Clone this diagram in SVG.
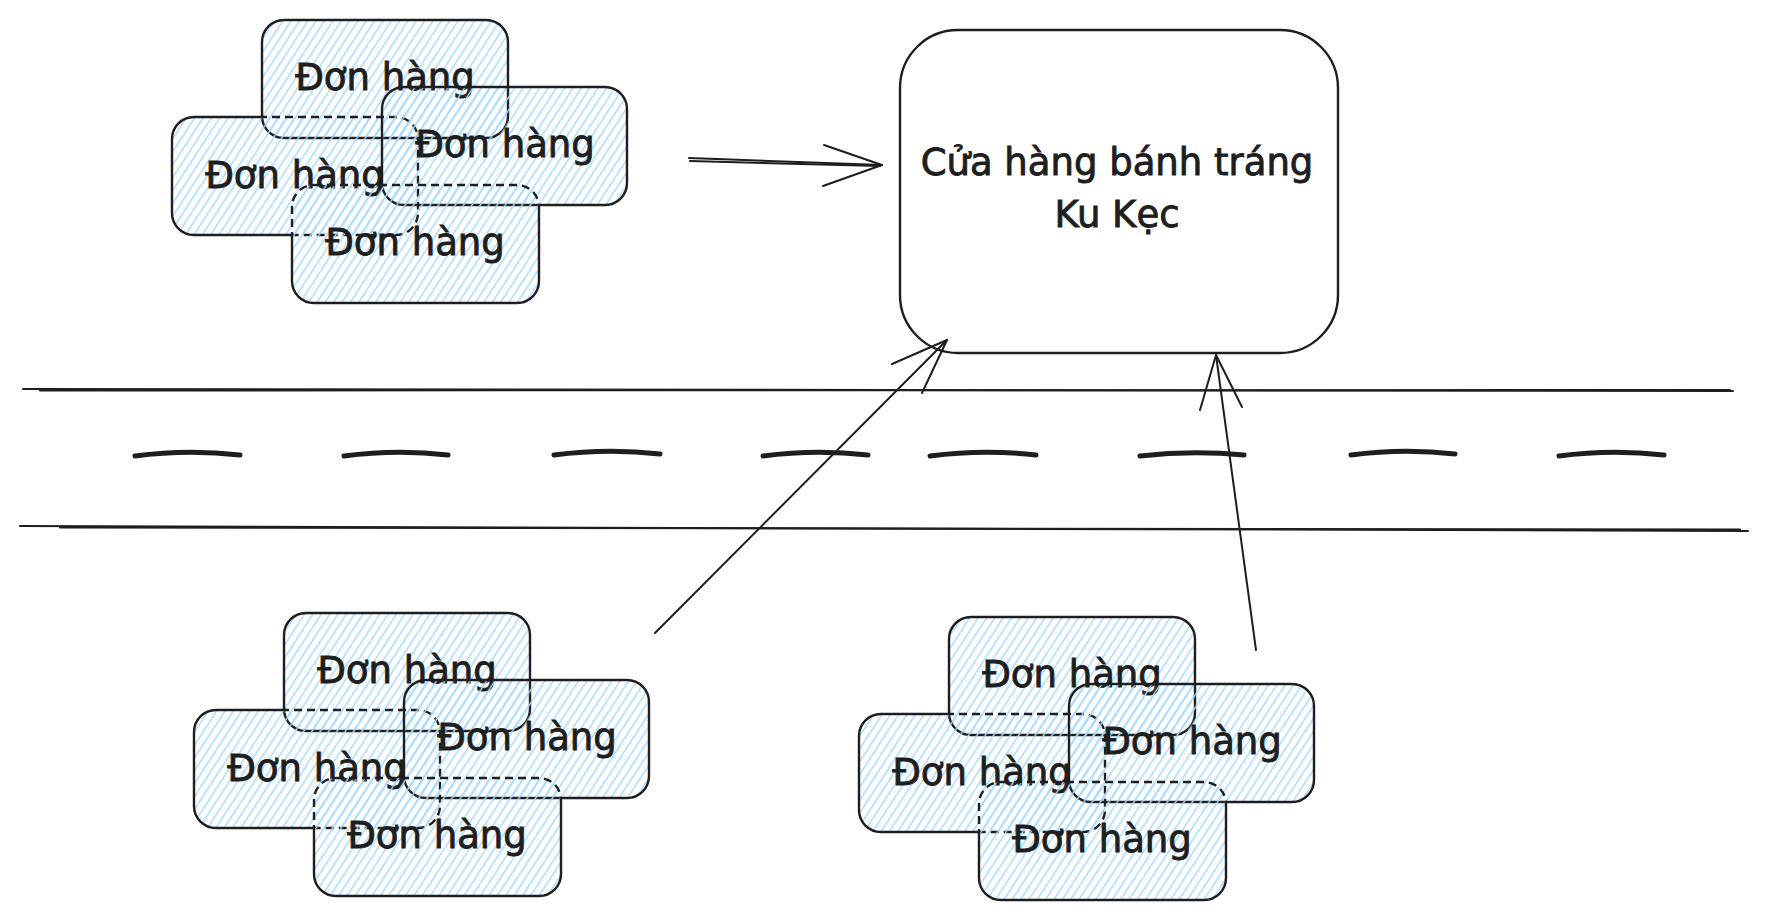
<svg xmlns="http://www.w3.org/2000/svg" width="1770" height="920" viewBox="0 0 1770 920">
<style>
.hatch{fill:url(#hatch);stroke:none}
.edge{fill:none;stroke:#1e1e1e;stroke-width:2.4;stroke-linejoin:round}
.dash{stroke-dasharray:8 5}
.lbl{font-family:"DejaVu Sans","Noto Sans",sans-serif;font-size:37px;fill:#1e1e1e;stroke:#1e1e1e;stroke-width:0.9;text-anchor:middle}
.line{fill:none;stroke:#1e1e1e;stroke-width:2;stroke-linecap:round;stroke-linejoin:round}
.mark{fill:none;stroke:#1e1e1e;stroke-width:5;stroke-linecap:round}
</style>
<defs>
<pattern id="hatch" patternUnits="userSpaceOnUse" width="7" height="7" patternTransform="rotate(33)">
<line x1="3.5" y1="-1" x2="3.5" y2="8" stroke="#a5d8ff" stroke-width="1.5"/>
</pattern>
<mask id="mBs" maskUnits="userSpaceOnUse" x="-50" y="-50" width="1900" height="1000">
<rect x="-50" y="-50" width="1900" height="1000" fill="#fff"/>
<rect x="262" y="20" width="246" height="118" rx="22" fill="#000"/>
<rect x="382" y="87" width="245" height="118" rx="22" fill="#000"/>
<rect x="292" y="185" width="247" height="118" rx="22" fill="#000"/>
</mask>
<mask id="mBd" maskUnits="userSpaceOnUse" x="-50" y="-50" width="1900" height="1000">
<rect x="262" y="20" width="246" height="118" rx="22" fill="#fff"/>
<rect x="382" y="87" width="245" height="118" rx="22" fill="#fff"/>
<rect x="292" y="185" width="247" height="118" rx="22" fill="#fff"/>
</mask>
<mask id="mDs" maskUnits="userSpaceOnUse" x="-50" y="-50" width="1900" height="1000">
<rect x="-50" y="-50" width="1900" height="1000" fill="#fff"/>
<rect x="172" y="117" width="246" height="118" rx="22" fill="#000"/>
<rect x="382" y="87" width="245" height="118" rx="22" fill="#000"/>
</mask>
<mask id="mDd" maskUnits="userSpaceOnUse" x="-50" y="-50" width="1900" height="1000">
<rect x="172" y="117" width="246" height="118" rx="22" fill="#fff"/>
<rect x="382" y="87" width="245" height="118" rx="22" fill="#fff"/>
</mask>
</defs>

<g id="road">
<path class="line" d="M23 389 L1733 391"/>
<path class="line" d="M40 390.5 L1730 390" stroke-width="1.2"/>
<path class="line" d="M20 526 L1748 531"/>
<path class="line" d="M60 527.5 L1740 529.5" stroke-width="1.2"/>
<path class="mark" d="M135 456 Q187 449 240 455"/>
<path class="mark" d="M344 456 Q396 449 448 455"/>
<path class="mark" d="M554 455 Q607 448 660 454"/>
<path class="mark" d="M763 456 Q815 449 868 455"/>
<path class="mark" d="M930 456 Q983 449 1036 455"/>
<path class="mark" d="M1140 456 Q1192 450 1244 455"/>
<path class="mark" d="M1351 455 Q1403 448 1455 454"/>
<path class="mark" d="M1559 456 Q1611 449 1664 455"/>
</g>

<g id="store">
<rect x="900" y="30" width="438" height="323" rx="58" fill="none" stroke="#1e1e1e" stroke-width="2.4"/>
<text class="lbl" x="1117" y="175">Cửa hàng bánh tráng</text>
<text class="lbl" x="1117" y="227">Ku Kẹc</text>
</g>

<g id="cluster-top">
<g id="order-top-1"><rect class="hatch" x="262" y="20" width="246" height="118" rx="22"/><rect class="edge" x="262" y="20" width="246" height="118" rx="22"/><text class="lbl" x="385" y="90">Đơn hàng</text></g>
<g id="order-top-2"><rect class="hatch" x="172" y="117" width="246" height="118" rx="22"/><rect class="edge" mask="url(#mBs)" x="172" y="117" width="246" height="118" rx="22"/><rect class="edge dash" mask="url(#mBd)" x="172" y="117" width="246" height="118" rx="22"/><text class="lbl" x="295" y="188">Đơn hàng</text></g>
<g id="order-top-3"><rect class="hatch" x="382" y="87" width="245" height="118" rx="22"/><rect class="edge" x="382" y="87" width="245" height="118" rx="22"/><text class="lbl" x="505" y="157">Đơn hàng</text></g>
<g id="order-top-4"><rect class="hatch" x="292" y="185" width="247" height="118" rx="22"/><rect class="edge" mask="url(#mDs)" x="292" y="185" width="247" height="118" rx="22"/><rect class="edge dash" mask="url(#mDd)" x="292" y="185" width="247" height="118" rx="22"/><text class="lbl" x="415" y="255">Đơn hàng</text></g>
</g>

<g id="cluster-left" transform="translate(22,593)">
<g id="order-left-1"><rect class="hatch" x="262" y="20" width="246" height="118" rx="22"/><rect class="edge" x="262" y="20" width="246" height="118" rx="22"/><text class="lbl" x="385" y="90">Đơn hàng</text></g>
<g id="order-left-2"><rect class="hatch" x="172" y="117" width="246" height="118" rx="22"/><rect class="edge" mask="url(#mBs)" x="172" y="117" width="246" height="118" rx="22"/><rect class="edge dash" mask="url(#mBd)" x="172" y="117" width="246" height="118" rx="22"/><text class="lbl" x="295" y="188">Đơn hàng</text></g>
<g id="order-left-3"><rect class="hatch" x="382" y="87" width="245" height="118" rx="22"/><rect class="edge" x="382" y="87" width="245" height="118" rx="22"/><text class="lbl" x="505" y="157">Đơn hàng</text></g>
<g id="order-left-4"><rect class="hatch" x="292" y="185" width="247" height="118" rx="22"/><rect class="edge" mask="url(#mDs)" x="292" y="185" width="247" height="118" rx="22"/><rect class="edge dash" mask="url(#mDd)" x="292" y="185" width="247" height="118" rx="22"/><text class="lbl" x="415" y="255">Đơn hàng</text></g>
</g>

<g id="cluster-right" transform="translate(687,597)">
<g id="order-right-1"><rect class="hatch" x="262" y="20" width="246" height="118" rx="22"/><rect class="edge" x="262" y="20" width="246" height="118" rx="22"/><text class="lbl" x="385" y="90">Đơn hàng</text></g>
<g id="order-right-2"><rect class="hatch" x="172" y="117" width="246" height="118" rx="22"/><rect class="edge" mask="url(#mBs)" x="172" y="117" width="246" height="118" rx="22"/><rect class="edge dash" mask="url(#mBd)" x="172" y="117" width="246" height="118" rx="22"/><text class="lbl" x="295" y="188">Đơn hàng</text></g>
<g id="order-right-3"><rect class="hatch" x="382" y="87" width="245" height="118" rx="22"/><rect class="edge" x="382" y="87" width="245" height="118" rx="22"/><text class="lbl" x="505" y="157">Đơn hàng</text></g>
<g id="order-right-4"><rect class="hatch" x="292" y="185" width="247" height="118" rx="22"/><rect class="edge" mask="url(#mDs)" x="292" y="185" width="247" height="118" rx="22"/><rect class="edge dash" mask="url(#mDd)" x="292" y="185" width="247" height="118" rx="22"/><text class="lbl" x="415" y="255">Đơn hàng</text></g>
</g>

<g id="connectors">
<g id="arrow-top">
<path class="line" d="M689 158 L882 165"/>
<path class="line" d="M690 161 L880 166" stroke-width="1.2"/>
<path class="line" d="M824 145 L882 165 L823 186"/>
</g>
<g id="arrow-left">
<path class="line" d="M655 633 L947 340"/>
<path class="line" d="M892 364 L947 340 L922 393"/>
</g>
<g id="arrow-right">
<path class="line" d="M1256 650 L1216 355"/>
<path class="line" d="M1200 410 L1216 355 L1242 407"/>
</g>
</g>
</svg>
